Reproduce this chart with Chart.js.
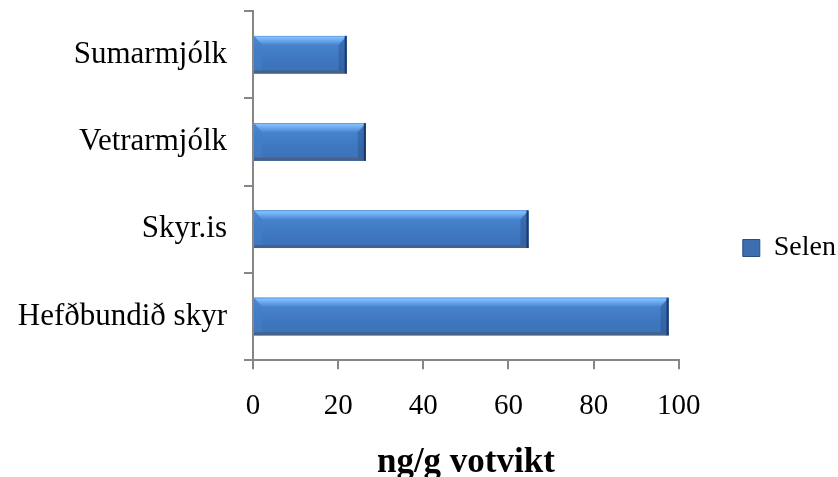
<!DOCTYPE html>
<html>
<head>
<meta charset="utf-8">
<script src="https://cdn.jsdelivr.net/npm/chart.js@4.4.1/dist/chart.umd.min.js"></script>
<style>
  html, body { margin: 0; padding: 0; background: #ffffff; }
  #wrap { width: 838px; height: 477px; }
</style>
</head>
<body>
<div id="wrap"><canvas id="c" width="838" height="477"></canvas></div>
<script>
const categories = ['Sumarmjólk', 'Vetrarmjólk', 'Skyr.is', 'Hefðbundið skyr'];
const selenValues = [22, 26.5, 64.7, 97.6];
const seriesName = 'Selen';
const axisTitle = 'ng/g votvikt';
const xTicks = [0, 20, 40, 60, 80, 100];

const FONT = "'Liberation Serif', 'Times New Roman', serif";
const AXIS = '#868686';

const bevelPlugin = {
  id: 'bevel',
  afterDatasetsDraw(chart) {
    const ctx = chart.ctx;
    chart.getSortedVisibleDatasetMetas().forEach(meta => {
      meta.data.forEach(el => {
        const p = el.getProps(['x', 'y', 'base', 'height'], true);
        const x0 = Math.min(p.base, p.x), x1 = Math.max(p.base, p.x);
        const y0 = p.y - p.height / 2, y1 = p.y + p.height / 2;
        const h = y1 - y0;
        ctx.save();
        const g = ctx.createLinearGradient(0, y0, 0, y1);
        g.addColorStop(0, '#5b97e2');
        g.addColorStop(0.25, '#4682cd');
        g.addColorStop(0.6, '#3f78c0');
        g.addColorStop(1, '#3b71b6');
        ctx.fillStyle = g;
        ctx.fillRect(x0, y0, x1 - x0, h);
        const hg = ctx.createLinearGradient(0, y0, 0, y0 + 9);
        hg.addColorStop(0, '#5c96dc');
        hg.addColorStop(0.15, '#80c0ff');
        hg.addColorStop(0.5, '#6aa8ee');
        hg.addColorStop(1, '#4a86d0');
        ctx.fillStyle = hg;
        ctx.beginPath();
        ctx.moveTo(x0, y0);
        ctx.lineTo(x1, y0);
        ctx.lineTo(x1 - 8, y0 + 9);
        ctx.lineTo(x0 + 8, y0 + 9);
        ctx.closePath();
        ctx.fill();
        ctx.fillStyle = 'rgba(70,125,200,0.55)';
        ctx.beginPath();
        ctx.moveTo(x0, y0);
        ctx.lineTo(x0 + 8, y0 + 9);
        ctx.lineTo(x0 + 8, y1 - 3);
        ctx.lineTo(x0, y1);
        ctx.closePath();
        ctx.fill();
        ctx.fillStyle = 'rgba(40,80,140,0.45)';
        ctx.beginPath();
        ctx.moveTo(x1, y0);
        ctx.lineTo(x1 - 8, y0 + 9);
        ctx.lineTo(x1 - 8, y1 - 3);
        ctx.lineTo(x1, y1);
        ctx.closePath();
        ctx.fill();
        ctx.fillStyle = '#46628a';
        ctx.fillRect(x0, y1 - 3, x1 - x0, 3);
        ctx.fillStyle = '#1c3a68';
        ctx.fillRect(x1 - 2, y0, 2, h);
        ctx.restore();
      });
    });
  }
};

new Chart(document.getElementById('c'), {
  type: 'bar',
  data: {
    labels: categories,
    datasets: [{
      label: seriesName,
      data: selenValues,
      backgroundColor: '#4077c0',
      borderWidth: 0,
      barPercentage: 0.43,
      categoryPercentage: 1.0
    }]
  },
  options: {
    indexAxis: 'y',
    responsive: false,
    animation: false,
    devicePixelRatio: 1,
    layout: { padding: { left: 15, top: 11, right: -8, bottom: -8 } },
    plugins: {
      tooltip: { enabled: false },
      legend: {
        position: 'right',
        align: 'center',
        labels: {
          font: { family: FONT, size: 28 },
          color: '#000000',
          boxWidth: 17,
          boxHeight: 17,
          padding: 64,
          generateLabels(chart) {
            return chart.data.datasets.map((ds, i) => ({
              text: ds.label,
              fillStyle: '#3d6fb0',
              strokeStyle: '#2a4d80',
              lineWidth: 1,
              datasetIndex: i,
              hidden: false
            }));
          }
        }
      }
    },
    scales: {
      x: {
        min: 0,
        max: 100,
        afterBuildTicks(scale) { scale.ticks = xTicks.map(v => ({ value: v })); },
        ticks: {
          font: { family: FONT, size: 29 },
          color: '#000000',
          padding: 20
        },
        grid: { drawOnChartArea: false, drawTicks: true, tickLength: 9, color: AXIS, lineWidth: 2 },
        border: { color: AXIS, width: 2 },
        title: {
          display: true,
          text: axisTitle,
          font: { family: FONT, size: 35, weight: 'bold' },
          color: '#000000',
          padding: { top: -2, bottom: 1 }
        }
      },
      y: {
        afterFit(scale) {
          scale.width = 238;
          scale.paddingTop = 0;
          scale.paddingBottom = 0;
        },
        ticks: {
          font: { family: FONT, size: 31 },
          color: '#000000',
          padding: 17
        },
        grid: { drawOnChartArea: false, drawTicks: true, tickLength: 9, color: AXIS, lineWidth: 2, offset: true },
        border: { color: AXIS, width: 2 }
      }
    }
  },
  plugins: [bevelPlugin]
});
</script>
</body>
</html>
